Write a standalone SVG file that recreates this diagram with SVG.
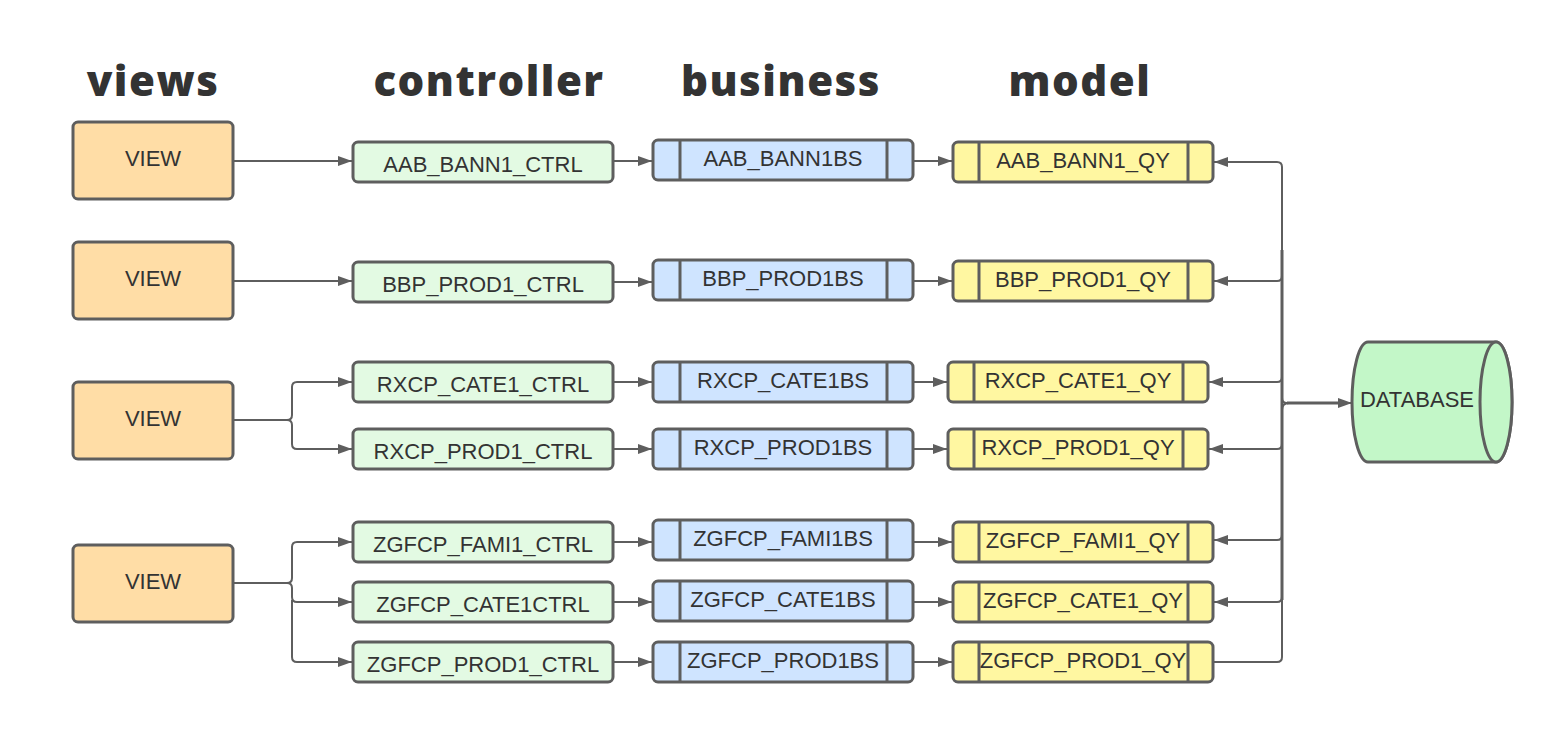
<svg xmlns="http://www.w3.org/2000/svg" width="1566" height="754" viewBox="0 0 1566 754">
<defs>
<marker id="ah" viewBox="0 0 14 10" refX="14" refY="5" markerWidth="14" markerHeight="10" markerUnits="userSpaceOnUse" orient="auto">
<path d="M0,0 L14,5 L0,10 Z" fill="#5e5e5e"/>
</marker>
<style>
.hdr{font-family:"Open Sans","Liberation Sans",sans-serif;font-weight:800;font-size:42px;letter-spacing:1.5px;fill:#333;text-anchor:middle}
.lbl{font-family:"Liberation Sans",Arial,sans-serif;font-size:22px;fill:#333;text-anchor:middle;dominant-baseline:central}
.view{fill:#ffdda6;stroke:#5e5e5e;stroke-width:3}
.ctrl{fill:#e3fae3;stroke:#5e5e5e;stroke-width:3}
.bus{fill:#cfe4ff;stroke:#5e5e5e;stroke-width:3}
.mod{fill:#fff7a1;stroke:#5e5e5e;stroke-width:3}
.sep{stroke:#5e5e5e;stroke-width:3;fill:none}
.db{fill:#c3f7c8;stroke:#5e5e5e;stroke-width:3}
.c{fill:none;stroke:#5e5e5e;stroke-width:2}
.t{fill:none;stroke:#5e5e5e;stroke-width:3}
.ca{fill:none;stroke:#5e5e5e;stroke-width:2;marker-end:url(#ah)}
</style>
</defs>
<g id="headers">
<text class="hdr" x="153" y="96">views</text>
<text class="hdr" x="489" y="96">controller</text>
<text class="hdr" x="781" y="96">business</text>
<text class="hdr" x="1080" y="96">model</text>
</g>
<g id="view1"><rect class="view" x="73" y="122" width="160" height="77" rx="5"/><text class="lbl" x="153" y="158">VIEW</text></g>
<g id="view2"><rect class="view" x="73" y="242" width="160" height="77" rx="5"/><text class="lbl" x="153" y="278">VIEW</text></g>
<g id="view3"><rect class="view" x="73" y="382" width="160" height="77" rx="5"/><text class="lbl" x="153" y="418">VIEW</text></g>
<g id="view4"><rect class="view" x="73" y="545" width="160" height="77" rx="5"/><text class="lbl" x="153" y="581">VIEW</text></g>

<g id="ctrl1"><rect class="ctrl" x="353" y="142" width="260" height="40" rx="5"/><text class="lbl" x="483" y="164">AAB_BANN1_CTRL</text></g>
<g id="ctrl2"><rect class="ctrl" x="353" y="262" width="260" height="40" rx="5"/><text class="lbl" x="483" y="284">BBP_PROD1_CTRL</text></g>
<g id="ctrl3"><rect class="ctrl" x="353" y="362" width="260" height="40" rx="5"/><text class="lbl" x="483" y="384">RXCP_CATE1_CTRL</text></g>
<g id="ctrl4"><rect class="ctrl" x="353" y="429" width="260" height="40" rx="5"/><text class="lbl" x="483" y="451">RXCP_PROD1_CTRL</text></g>
<g id="ctrl5"><rect class="ctrl" x="353" y="522" width="260" height="40" rx="5"/><text class="lbl" x="483" y="544">ZGFCP_FAMI1_CTRL</text></g>
<g id="ctrl6"><rect class="ctrl" x="353" y="582" width="260" height="40" rx="5"/><text class="lbl" x="483" y="604">ZGFCP_CATE1CTRL</text></g>
<g id="ctrl7"><rect class="ctrl" x="353" y="642" width="260" height="40" rx="5"/><text class="lbl" x="483" y="664">ZGFCP_PROD1_CTRL</text></g>

<g id="bus1"><rect class="bus" x="653" y="140" width="260" height="40" rx="5"/><path class="sep" d="M680,140V180M887,140V180"/><text class="lbl" x="783" y="158">AAB_BANN1BS</text></g>
<g id="bus2"><rect class="bus" x="653" y="260" width="260" height="40" rx="5"/><path class="sep" d="M680,260V300M887,260V300"/><text class="lbl" x="783" y="278">BBP_PROD1BS</text></g>
<g id="bus3"><rect class="bus" x="653" y="362" width="260" height="40" rx="5"/><path class="sep" d="M680,362V402M887,362V402"/><text class="lbl" x="783" y="380">RXCP_CATE1BS</text></g>
<g id="bus4"><rect class="bus" x="653" y="429" width="260" height="40" rx="5"/><path class="sep" d="M680,429V469M887,429V469"/><text class="lbl" x="783" y="447">RXCP_PROD1BS</text></g>
<g id="bus5"><rect class="bus" x="653" y="520" width="260" height="40" rx="5"/><path class="sep" d="M680,520V560M887,520V560"/><text class="lbl" x="783" y="538">ZGFCP_FAMI1BS</text></g>
<g id="bus6"><rect class="bus" x="653" y="581" width="260" height="40" rx="5"/><path class="sep" d="M680,581V621M887,581V621"/><text class="lbl" x="783" y="599">ZGFCP_CATE1BS</text></g>
<g id="bus7"><rect class="bus" x="653" y="642" width="260" height="40" rx="5"/><path class="sep" d="M680,642V682M887,642V682"/><text class="lbl" x="783" y="660">ZGFCP_PROD1BS</text></g>

<g id="mod1"><rect class="mod" x="953" y="142" width="260" height="40" rx="5"/><path class="sep" d="M979,142V182M1188,142V182"/><text class="lbl" x="1083" y="160">AAB_BANN1_QY</text></g>
<g id="mod2"><rect class="mod" x="953" y="261" width="260" height="40" rx="5"/><path class="sep" d="M979,261V301M1188,261V301"/><text class="lbl" x="1083" y="279">BBP_PROD1_QY</text></g>
<g id="mod3"><rect class="mod" x="948" y="362" width="260" height="40" rx="5"/><path class="sep" d="M974,362V402M1183,362V402"/><text class="lbl" x="1078" y="380">RXCP_CATE1_QY</text></g>
<g id="mod4"><rect class="mod" x="948" y="429" width="260" height="40" rx="5"/><path class="sep" d="M974,429V469M1183,429V469"/><text class="lbl" x="1078" y="447">RXCP_PROD1_QY</text></g>
<g id="mod5"><rect class="mod" x="953" y="522" width="260" height="40" rx="5"/><path class="sep" d="M979,522V562M1188,522V562"/><text class="lbl" x="1083" y="540">ZGFCP_FAMI1_QY</text></g>
<g id="mod6"><rect class="mod" x="953" y="582" width="260" height="40" rx="5"/><path class="sep" d="M979,582V622M1188,582V622"/><text class="lbl" x="1083" y="600">ZGFCP_CATE1_QY</text></g>
<g id="mod7"><rect class="mod" x="953" y="642" width="260" height="40" rx="5"/><path class="sep" d="M979,642V682M1188,642V682"/><text class="lbl" x="1083" y="660">ZGFCP_PROD1_QY</text></g>

<g id="database">
<path class="db" d="M1368,342 H1496 A16,60 0 0 1 1496,462 H1368 A16,60 0 0 1 1368,342 Z"/>
<ellipse class="db" cx="1496" cy="402" rx="16" ry="60"/>
<text class="lbl" x="1417" y="399">DATABASE</text>
</g>

<g id="connectors">
<path class="ca" d="M233,161 H352"/>
<path class="ca" d="M233,281 H352"/>
<path class="c" d="M233,420 H287 Q292,420 292,415 V387 Q292,382 297,382 H300"/>
<path class="ca" d="M297,382 H352"/>
<path class="c" d="M287,420 Q292,420 292,425 V444 Q292,449 297,449"/>
<path class="ca" d="M297,449 H352"/>
<path class="c" d="M233,583 H287 Q292,583 292,578 V547 Q292,542 297,542"/>
<path class="ca" d="M297,542 H352"/>
<path class="c" d="M287,583 Q292,583 292,588 V597 Q292,602 297,602"/>
<path class="ca" d="M297,602 H352"/>
<path class="c" d="M292,600 V657 Q292,662 297,662"/>
<path class="ca" d="M297,662 H352"/>

<path class="ca" d="M613,161 H652"/>
<path class="ca" d="M613,282 H652"/>
<path class="ca" d="M613,382 H652"/>
<path class="ca" d="M613,449 H652"/>
<path class="ca" d="M613,542 H652"/>
<path class="ca" d="M613,602 H652"/>
<path class="ca" d="M613,662 H652"/>

<path class="ca" d="M913,161 H952"/>
<path class="ca" d="M913,281 H952"/>
<path class="ca" d="M913,382 H947"/>
<path class="ca" d="M913,449 H947"/>
<path class="ca" d="M913,542 H952"/>
<path class="ca" d="M913,602 H952"/>
<path class="ca" d="M913,662 H952"/>

<path class="t" d="M1282,250 V600"/>
<path class="c" d="M1282,395 V167 Q1282,162 1277,162"/>
<path class="ca" d="M1277,162 H1214"/>
<path class="c" d="M1282,276 Q1282,281 1277,281"/>
<path class="ca" d="M1277,281 H1214"/>
<path class="c" d="M1282,377 Q1282,382 1277,382"/>
<path class="ca" d="M1277,382 H1209"/>
<path class="c" d="M1282,410 V444 Q1282,449 1277,449"/>
<path class="ca" d="M1277,449 H1209"/>
<path class="c" d="M1282,410 V535 Q1282,540 1277,540"/>
<path class="ca" d="M1277,540 H1214"/>
<path class="c" d="M1282,597 Q1282,602 1277,602"/>
<path class="ca" d="M1277,602 H1214"/>
<path class="c" d="M1213,662 H1277 Q1282,662 1282,657 V410 Q1282,403 1289,403"/>
<path class="c" d="M1282,398 Q1282,403 1287,403"/>
<path class="t" d="M1287,403 H1338"/>
<path class="ca" d="M1287,403 H1352"/>
</g>
</svg>
